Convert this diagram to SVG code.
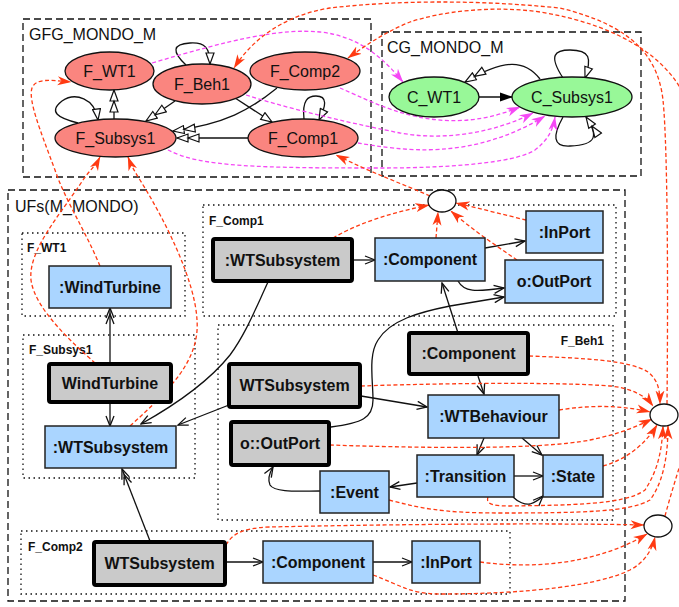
<svg xmlns="http://www.w3.org/2000/svg" width="679" height="607" viewBox="0 0 679 607">
  <style>
    .bg { fill: #ffffff; }
    .dash { fill: none; stroke: #111; stroke-width: 1.3; stroke-dasharray: 7 4; }
    .dot { fill: none; stroke: #111; stroke-width: 1.3; stroke-dasharray: 1.5 3.5; }
    .title { font-family: "Liberation Sans", Arial, sans-serif; font-size: 16px; fill: #111; }
    .sub { font-family: "Liberation Sans", Arial, sans-serif; font-size: 12px; font-weight: bold; fill: #111; }
    .fnode { fill: #fa857f; stroke: #111; stroke-width: 1.3; }
    .cnode { fill: #98f898; stroke: #111; stroke-width: 1.3; }
    .elab { font-family: "Liberation Sans", Arial, sans-serif; font-size: 16px; fill: #111; text-anchor: middle; }
    .grey { fill: #cacaca; stroke: #000; stroke-width: 4; }
    .blue { fill: #aad5ff; stroke: #222; stroke-width: 1.5; }
    .blab { font-family: "Liberation Sans", Arial, sans-serif; font-size: 16px; font-weight: bold; fill: #111; text-anchor: middle; }
    .circ { fill: #fff; stroke: #111; stroke-width: 1.3; }
    .e { fill: none; stroke: #111; stroke-width: 1.3; }
    .vee { marker-end: url(#vee); }
    .vee2 { marker-end: url(#vee2); }
    .hol { marker-end: url(#hol); }
    .hol2 { marker-end: url(#hol2); }
    .red { fill: none; stroke: #ff3a12; stroke-width: 1.3; stroke-dasharray: 4 2.5; marker-end: url(#ra); }
    .mag { fill: none; stroke: #f548f5; stroke-width: 1.3; stroke-dasharray: 4 2.5; marker-end: url(#ma); }
  </style>
  <defs>
    <marker id="vee" viewBox="0 0 12 10" refX="11" refY="5" markerWidth="12" markerHeight="10" orient="auto" markerUnits="userSpaceOnUse">
      <path d="M1,1 L11,5 L1,9" fill="none" stroke="#111" stroke-width="1.3"/>
    </marker>
    <marker id="vee2" viewBox="0 0 18 10" refX="17" refY="5" markerWidth="18" markerHeight="10" orient="auto" markerUnits="userSpaceOnUse">
      <path d="M1,1 L11,5 L1,9 M7,1 L17,5 L7,9" fill="none" stroke="#111" stroke-width="1.3"/>
    </marker>
    <marker id="hol" viewBox="0 0 13 10" refX="12" refY="5" markerWidth="13" markerHeight="10" orient="auto" markerUnits="userSpaceOnUse">
      <path d="M1,1 L12,5 L1,9 z" fill="#fff" stroke="#111" stroke-width="1.2"/>
    </marker>
    <marker id="hol2" viewBox="0 0 24 10" refX="23" refY="5" markerWidth="24" markerHeight="10" orient="auto" markerUnits="userSpaceOnUse">
      <path d="M1,1 L12,5 L1,9 z M12,1 L23,5 L12,9 z" fill="#fff" stroke="#111" stroke-width="1.2"/>
    </marker>
    <marker id="fill" viewBox="0 0 13 10" refX="12" refY="5" markerWidth="13" markerHeight="10" orient="auto" markerUnits="userSpaceOnUse">
      <path d="M0,0.5 L13,5 L0,9.5 z" fill="#000"/>
    </marker>
    <marker id="ra" viewBox="0 0 14 10" refX="13.5" refY="5" markerWidth="14" markerHeight="10" orient="auto" markerUnits="userSpaceOnUse">
      <path d="M0,0.5 L14,5 L0,9.5 L4,5 z" fill="#ff3a12"/>
    </marker>
    <marker id="ma" viewBox="0 0 14 10" refX="13.5" refY="5" markerWidth="14" markerHeight="10" orient="auto" markerUnits="userSpaceOnUse">
      <path d="M0,0.5 L14,5 L0,9.5 L4,5 z" fill="#f548f5"/>
    </marker>
  </defs>

  <rect class="bg" x="0" y="0" width="679" height="607"/>

  <!-- clusters -->
  <g id="clusters">
    <rect class="dash" x="23" y="19" width="348" height="158"/>
    <text class="title" x="29" y="40">GFG_MONDO_M</text>
    <rect class="dash" x="382" y="32" width="259" height="144"/>
    <text class="title" x="387" y="53">CG_MONDO_M</text>
    <rect class="dash" x="8" y="190" width="617" height="411"/>
    <text class="title" x="15" y="212">UFs(M_MONDO)</text>
    <rect class="dot" x="22" y="233" width="163" height="83"/>
    <text class="sub" x="27" y="252">F_WT1</text>
    <rect class="dot" x="203" y="205" width="413" height="111"/>
    <text class="sub" x="209" y="225">F_Comp1</text>
    <rect class="dot" x="23" y="335" width="172" height="143"/>
    <text class="sub" x="29" y="354">F_Subsys1</text>
    <rect class="dot" x="218" y="325" width="395" height="195"/>
    <text class="sub" x="604" y="345" text-anchor="end">F_Beh1</text>
    <rect class="dot" x="21" y="531" width="489" height="63"/>
    <text class="sub" x="28" y="551">F_Comp2</text>
  </g>

  <!-- connectors -->
  <g id="connectors">
    <!-- GFG graph -->
    <path class="e hol" d="M186,65 C172,52 172,44 190,43 C205,42 210,48 210,64"/>
    <path class="e hol" d="M78,123 C58,118 48,112 62,101 C75,92 95,98 98,120"/>
    <path class="e hol2" d="M114,119 L114,90"/>
    <path class="e hol2" d="M175,101 L146,121"/>
    <path class="e hol2" d="M277,88 C250,110 225,124 173,131"/>
    <path class="e hol2" d="M248,138 L177,138"/>
    <path class="e hol" d="M232,96 L272,122"/>
    <path class="e hol" d="M304,119 C302,100 308,96 316,96 C328,96 326,106 319,120"/>

    <!-- CG graph -->
    <path class="e" d="M479,97 L512,97" marker-end="url(#fill)"/>
    <path class="e hol2" d="M540,79 C525,60 505,58 465,82"/>
    <path class="e hol" d="M563,78 C548,55 555,50 570,50 C590,50 592,58 585,78"/>
    <path class="e hol2" d="M563,117 C553,135 552,147 570,146 C598,145 598,135 586,117"/>

    <!-- GFG to CG mapping -->
    <path class="mag" d="M152,63 C230,40 280,28 320,32 C360,36 385,60 403,82"/>
    <path class="mag" d="M340,88 C380,105 440,140 520,107"/>
    <path class="mag" d="M246,95 C300,112 360,125 400,133 C450,142 500,130 533,113"/>
    <path class="mag" d="M358,143 C400,150 470,162 545,116"/>
    <path class="mag" d="M168,150 C200,167 260,168 380,168 C470,168 520,160 535,150 C548,140 553,130 555,117"/>

    <!-- UF internal edges -->
    <path class="e vee2" d="M110,363 L110,308"/>
    <path class="e vee" d="M110,402 L110,426"/>
    <path class="e vee" d="M268,282 C255,310 245,335 230,355 C210,380 175,405 141,424"/>
    <path class="e vee" d="M229,405 L178,425"/>
    <path class="e vee2" d="M150,541 L122,469"/>
    <path class="e vee" d="M353,260 L375,260"/>
    <path class="e vee" d="M485,248 L525,241"/>
    <path class="e vee" d="M458,281 C464,292 475,292 504,288"/>
    <path class="e vee" d="M331,427 C362,423 373,418 373,400 C373,380 368,355 378,340 C390,320 420,312 450,306 L504,297"/>
    <path class="e vee" d="M458,333 L442,283"/>
    <path class="e vee" d="M478,376 L484,394"/>
    <path class="e vee" d="M361,396 L427,407"/>
    <path class="e vee" d="M484,438 L477,455"/>
    <path class="e vee" d="M522,438 L542,455"/>
    <path class="e vee" d="M514,476 L543,476"/>
    <path class="e vee" d="M513,497 C518,502 525,505 530,504 C536,502 540,499 543,496"/>
    <path class="e vee" d="M417,483 L390,487"/>
    <path class="e vee" d="M320,491 C300,491 275,493 270,485 C267,478 270,472 273,467"/>
    <path class="e vee" d="M226,562 L263,562"/>
    <path class="e vee" d="M373,562 L412,562"/>

    <!-- UF nodes to GFG -->
    <path class="red" d="M100,266 C85,230 65,200 55,170 C40,130 28,100 32,88 C36,78 50,80 71,82"/>
    <path class="red" d="M95,363 C75,345 35,310 31,280 C28,250 60,215 83,180 C90,170 96,165 100,157"/>
    <path class="red" d="M130,426 C170,390 200,360 197,320 C195,280 165,220 140,180 C135,172 131,165 128,157"/>

    <!-- F_Comp1 morphism -->
    <path class="red" d="M333,238 C360,222 395,212 429,205"/>
    <path class="red" d="M436,238 L438,212"/>
    <path class="red" d="M517,260 C495,245 470,228 451,211"/>
    <path class="red" d="M526,220 C505,215 478,208 456,203"/>
    <path class="red" d="M430,196 C400,183 370,172 336,155"/>

    <!-- F_Beh1 morphism -->
    <path class="red" d="M529,356 C580,358 630,360 648,372 C658,380 660,390 660,404"/>
    <path class="red" d="M361,386 C450,383 560,382 610,386 C630,388 645,395 653,406"/>
    <path class="red" d="M559,410 C590,405 620,405 650,412"/>
    <path class="red" d="M330,445 C420,448 540,450 590,440 C620,434 640,425 652,419"/>
    <path class="red" d="M603,466 C625,460 645,445 657,425"/>
    <path class="red" d="M488,497 C486,503 490,506 510,506 C570,505 625,505 645,490 C658,470 662,450 663,426"/>
    <path class="red" d="M389,500 C420,508 440,513 500,513 C580,513 630,512 650,500 C665,480 668,450 668,426"/>
    <path class="red" d="M667,404 C668,300 668,150 663,100 C658,55 630,25 560,8 C480,0 400,0 330,8 C290,14 255,35 234,68"/>

    <!-- F_Comp2 morphism -->
    <path class="red" d="M226,545 C232,535 240,528 270,527 C400,524 560,523 644,525"/>
    <path class="red" d="M480,562 C540,570 600,562 647,534"/>
    <path class="red" d="M373,575 C400,585 410,594 440,594 C530,594 600,585 630,570 C645,562 652,550 655,537"/>
    <path class="red" d="M665,516 C672,490 680,465 688,440 L690,110 C675,60 620,25 540,12 C490,5 440,12 410,22 C390,30 370,42 348,58"/>
  </g>

  <!-- GFG_MONDO_M nodes -->
  <g id="F_WT1"><ellipse class="fnode" cx="109.5" cy="71" rx="44.5" ry="19"/><text class="elab" x="109.5" y="77">F_WT1</text></g>
  <g id="F_Beh1"><ellipse class="fnode" cx="202" cy="84" rx="49" ry="20"/><text class="elab" x="202" y="90">F_Beh1</text></g>
  <g id="F_Comp2"><ellipse class="fnode" cx="305" cy="71" rx="55" ry="19"/><text class="elab" x="305" y="77">F_Comp2</text></g>
  <g id="F_Subsys1"><ellipse class="fnode" cx="115.5" cy="138" rx="60.5" ry="19"/><text class="elab" x="115.5" y="144">F_Subsys1</text></g>
  <g id="F_Comp1"><ellipse class="fnode" cx="303" cy="138" rx="55" ry="19"/><text class="elab" x="303" y="144">F_Comp1</text></g>

  <!-- CG_MONDO_M nodes -->
  <g id="C_WT1"><ellipse class="cnode" cx="434" cy="97" rx="45" ry="20"/><text class="elab" x="434" y="103">C_WT1</text></g>
  <g id="C_Subsys1"><ellipse class="cnode" cx="572" cy="97" rx="60" ry="20"/><text class="elab" x="572" y="103">C_Subsys1</text></g>

  <!-- F_WT1 -->
  <g id="wt1_windturbine"><rect class="blue" x="49" y="266" width="122" height="42"/><text class="blab" x="110" y="293">:WindTurbine</text></g>

  <!-- F_Comp1 -->
  <g id="c1_wtsubsystem"><rect class="grey" x="213" y="239" width="139" height="42" rx="2"/><text class="blab" x="282.5" y="266">:WTSubsystem</text></g>
  <g id="c1_component"><rect class="blue" x="375" y="238" width="110" height="43"/><text class="blab" x="430" y="265">:Component</text></g>
  <g id="c1_inport"><rect class="blue" x="526" y="211" width="77" height="42"/><text class="blab" x="564.5" y="238">:InPort</text></g>
  <g id="c1_outport"><rect class="blue" x="505" y="260" width="98" height="43"/><text class="blab" x="554" y="287">o:OutPort</text></g>
  <g id="c1_morph"><ellipse class="circ" cx="442" cy="201" rx="14" ry="11"/></g>

  <!-- F_Subsys1 -->
  <g id="s1_windturbine"><rect class="grey" x="49" y="364" width="122" height="38" rx="2"/><text class="blab" x="110" y="389">WindTurbine</text></g>
  <g id="s1_wtsubsystem"><rect class="blue" x="45" y="426" width="131" height="42"/><text class="blab" x="110.5" y="453">:WTSubsystem</text></g>

  <!-- F_Beh1 -->
  <g id="b1_wtsubsystem"><rect class="grey" x="229" y="364" width="131" height="43" rx="2"/><text class="blab" x="294.5" y="391">WTSubsystem</text></g>
  <g id="b1_outport"><rect class="grey" x="231" y="422" width="98" height="43" rx="2"/><text class="blab" x="280" y="449">o::OutPort</text></g>
  <g id="b1_component"><rect class="grey" x="409" y="333" width="119" height="41" rx="2"/><text class="blab" x="468.5" y="359">:Component</text></g>
  <g id="b1_wtbehaviour"><rect class="blue" x="428" y="395" width="131" height="43"/><text class="blab" x="493.5" y="422">:WTBehaviour</text></g>
  <g id="b1_transition"><rect class="blue" x="417" y="455" width="97" height="42"/><text class="blab" x="465.5" y="482">:Transition</text></g>
  <g id="b1_state"><rect class="blue" x="543" y="455" width="60" height="42"/><text class="blab" x="573" y="482">:State</text></g>
  <g id="b1_event"><rect class="blue" x="320" y="471" width="69" height="42"/><text class="blab" x="354.5" y="498">:Event</text></g>
  <g id="b1_morph"><ellipse class="circ" cx="664" cy="415" rx="14" ry="11"/></g>

  <!-- F_Comp2 -->
  <g id="c2_wtsubsystem"><rect class="grey" x="94" y="542" width="131" height="43" rx="2"/><text class="blab" x="159.5" y="569">WTSubsystem</text></g>
  <g id="c2_component"><rect class="blue" x="263" y="541" width="110" height="42"/><text class="blab" x="318" y="568">:Component</text></g>
  <g id="c2_inport"><rect class="blue" x="412" y="541" width="68" height="42"/><text class="blab" x="446" y="568">:InPort</text></g>
  <g id="c2_morph"><ellipse class="circ" cx="658" cy="526" rx="14" ry="11"/></g>
</svg>
